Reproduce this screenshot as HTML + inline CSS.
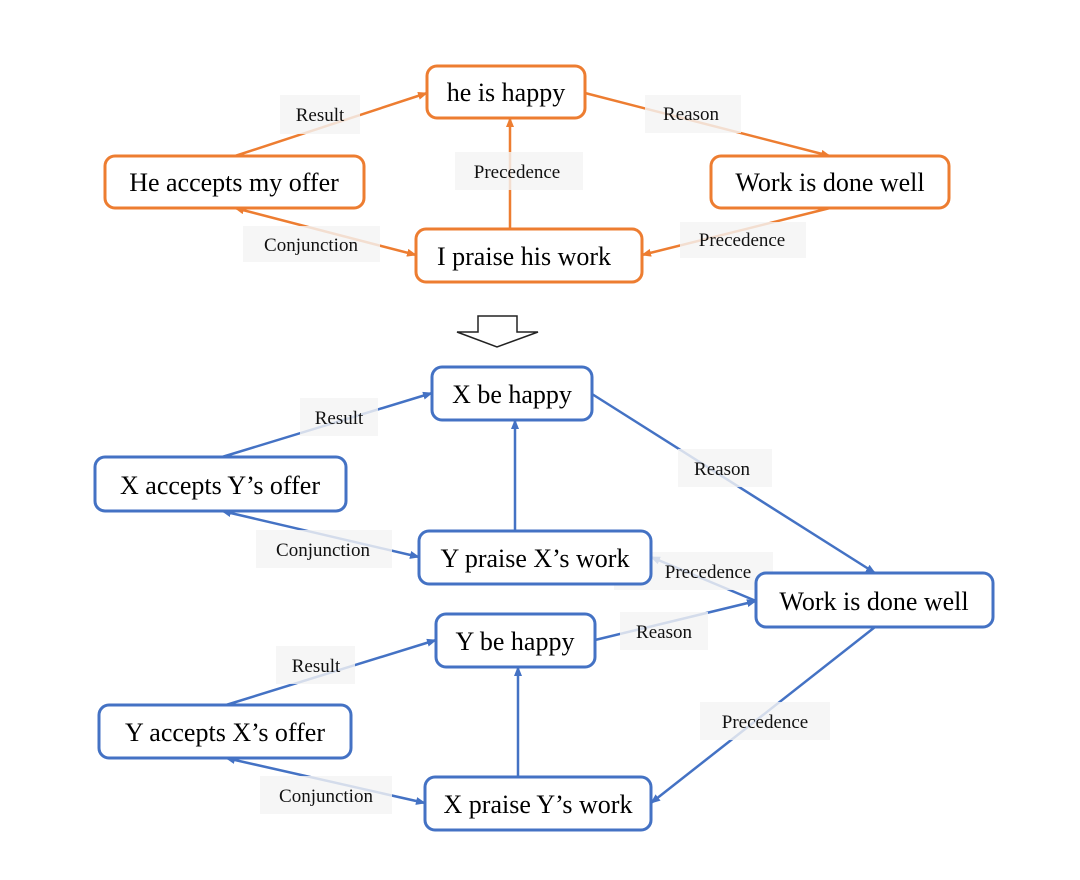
<!DOCTYPE html>
<html><head><style>body{margin:0;background:#fff}svg{display:block}</style></head><body>
<svg width="1080" height="880" viewBox="0 0 1080 880" xmlns="http://www.w3.org/2000/svg" font-family="Liberation Serif, serif">
<defs>
<marker id="ao" markerWidth="10" markerHeight="8" refX="9" refY="4" orient="auto-start-reverse" markerUnits="userSpaceOnUse"><path d="M0,0L10,4L0,8z" fill="#ed7d31"/></marker>
<marker id="ab" markerWidth="10" markerHeight="8" refX="9" refY="4" orient="auto-start-reverse" markerUnits="userSpaceOnUse"><path d="M0,0L10,4L0,8z" fill="#4472c4"/></marker>
</defs>
<g stroke="#ed7d31" stroke-width="2.5" fill="none">
<line x1="235" y1="156" x2="427" y2="93" marker-end="url(#ao)"/>
<line x1="585" y1="93" x2="830" y2="156" marker-end="url(#ao)"/>
<line x1="510" y1="229" x2="510" y2="118" marker-end="url(#ao)"/>
<line x1="235" y1="208" x2="416" y2="255" marker-start="url(#ao)" marker-end="url(#ao)"/>
<line x1="830" y1="208" x2="642" y2="255" marker-end="url(#ao)"/>
</g>
<g stroke="#4472c4" stroke-width="2.5" fill="none">
<line x1="222" y1="457" x2="432" y2="393" marker-end="url(#ab)"/>
<line x1="515" y1="531" x2="515" y2="420" marker-end="url(#ab)"/>
<line x1="592" y1="394" x2="875" y2="573" marker-end="url(#ab)"/>
<line x1="222" y1="511" x2="419" y2="557" marker-start="url(#ab)" marker-end="url(#ab)"/>
<line x1="756" y1="601" x2="651" y2="557" marker-end="url(#ab)"/>
<line x1="595" y1="640" x2="756" y2="601" marker-end="url(#ab)"/>
<line x1="518" y1="777" x2="518" y2="667" marker-end="url(#ab)"/>
<line x1="226" y1="705" x2="436" y2="640" marker-end="url(#ab)"/>
<line x1="226" y1="758" x2="425" y2="803" marker-start="url(#ab)" marker-end="url(#ab)"/>
<line x1="875" y1="627" x2="651" y2="803" marker-end="url(#ab)"/>
</g>
<g fill="rgba(244,244,244,0.82)">
<rect x="280" y="95" width="80" height="39"/><rect x="645" y="95" width="96" height="38"/>
<rect x="455" y="152" width="128" height="38"/><rect x="243" y="226" width="137" height="36"/>
<rect x="680" y="222" width="126" height="36"/>
<rect x="300" y="398" width="78" height="38"/><rect x="678" y="449" width="94" height="38"/>
<rect x="256" y="530" width="136" height="38"/><rect x="614" y="552" width="159" height="38"/>
<rect x="620" y="612" width="88" height="38"/><rect x="276" y="646" width="79" height="38"/>
<rect x="700" y="702" width="130" height="38"/><rect x="260" y="776" width="132" height="38"/>
</g>
<g font-size="19" fill="#111" text-anchor="middle">
<text x="320" y="121">Result</text><text x="691" y="120">Reason</text>
<text x="517" y="178">Precedence</text><text x="311" y="251">Conjunction</text>
<text x="742" y="246">Precedence</text>
<text x="339" y="424">Result</text><text x="722" y="475">Reason</text>
<text x="323" y="556">Conjunction</text><text x="708" y="578">Precedence</text>
<text x="664" y="638">Reason</text><text x="316" y="672">Result</text>
<text x="765" y="728">Precedence</text><text x="326" y="802">Conjunction</text>
</g>
<g fill="#fff" stroke="#ed7d31" stroke-width="3">
<rect x="427" y="66" width="158" height="52" rx="10"/>
<rect x="105" y="156" width="259" height="52" rx="10"/>
<rect x="711" y="156" width="238" height="52" rx="10"/>
<rect x="416" y="229" width="226" height="53" rx="10"/>
</g>
<g fill="#fff" stroke="#4472c4" stroke-width="3">
<rect x="432" y="367" width="160" height="53" rx="10"/>
<rect x="95" y="457" width="251" height="54" rx="10"/>
<rect x="419" y="531" width="232" height="53" rx="10"/>
<rect x="756" y="573" width="237" height="54" rx="10"/>
<rect x="436" y="614" width="159" height="53" rx="10"/>
<rect x="99" y="705" width="252" height="53" rx="10"/>
<rect x="425" y="777" width="226" height="53" rx="10"/>
</g>
<g font-size="26" fill="#000" text-anchor="middle">
<text x="506" y="101">he is happy</text>
<text x="234" y="191">He accepts my offer</text>
<text x="830" y="191">Work is done well</text>
<text x="524" y="265">I praise his work</text>
<text x="512" y="403">X be happy</text>
<text x="220" y="494">X accepts Y’s offer</text>
<text x="535" y="567">Y praise X’s work</text>
<text x="874" y="610">Work is done well</text>
<text x="515" y="650">Y be happy</text>
<text x="225" y="741">Y accepts X’s offer</text>
<text x="538" y="813">X praise Y’s work</text>
</g>
<path d="M478,316H517V332H538L497,347L457,332H478Z" fill="#fff" stroke="#222" stroke-width="1.5"/>
</svg>
</body></html>
